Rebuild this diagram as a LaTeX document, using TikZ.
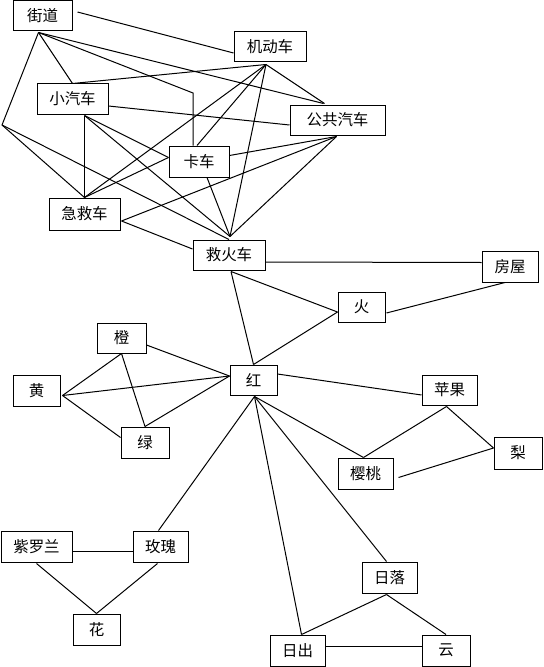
\documentclass[tikz,border=0pt]{standalone}
\usepackage{fontspec}
\newfontfamily\cjk{Noto Sans CJK SC}
\usetikzlibrary{calc,backgrounds}
\tikzset{
  box/.style={draw, line width=0.75pt, inner sep=0pt, fill=white, font=\cjk\fontsize{11.6}{11.6}\selectfont},
  wh/.style 2 args={minimum width=#1*0.75pt, minimum height=#2*0.75pt},
  link/.style={line width=0.75pt}
}
\begin{document}
\begin{tikzpicture}[x=0.75pt, y=-0.75pt]
\useasboundingbox (0,0) rectangle (543,667);
% bend points
\coordinate (b1) at (2,125);
\coordinate (b2) at (193,93);
\path
  node[box, wh={59}{30}] (jd) at (42.5,16) {街道}
  node[box, wh={72}{30}] (jdc) at (270,47) {机动车}
  node[box, wh={71}{30}] (xqc) at (72.5,99) {小汽车}
  node[box, wh={95}{30}] (ggqc) at (337.5,120) {公共汽车}
  node[box, wh={60}{31}] (kc) at (199,161.5) {卡车}
  node[box, wh={71}{32}] (jjc) at (84.5,214) {急救车}
  node[box, wh={72}{30}] (jhc) at (229,255) {救火车}
  node[box, wh={56}{31}] (fw) at (510,266.5) {房屋}
  node[box, wh={47}{30}] (huo) at (361.5,307) {火}
  node[box, wh={47}{30}] (hong) at (253.5,380) {红}
  node[box, wh={49}{30}] (cheng) at (121.5,338) {橙}
  node[box, wh={47}{31}] (huang) at (36.5,390.5) {黄}
  node[box, wh={48}{31}] (lv) at (145,442.5) {绿}
  node[box, wh={55}{30}] (pg) at (449.5,390) {苹果}
  node[box, wh={48}{32}] (li) at (518,453) {梨}
  node[box, wh={55}{31}] (yt) at (365.5,473.5) {樱桃}
  node[box, wh={71}{31}] (zll) at (36.5,546.5) {紫罗兰}
  node[box, wh={55}{31}] (mg) at (160.5,546.5) {玫瑰}
  node[box, wh={47}{31}] (hua) at (96.5,629.5) {花}
  node[box, wh={55}{31}] (rl) at (389.5,577.5) {日落}
  node[box, wh={55}{31}] (rc) at (297.5,650.5) {日出}
  node[box, wh={48}{31}] (yun) at (446,650.5) {云};
\begin{pgfonlayer}{background}
\begin{scope}[link]
% 街道
\draw ($(jd.south)+(-4,1)$) -- (xqc.north);
\draw ($(jd.south)+(-4,1)$) -- (b1) -- (jjc.north);
\draw (b1) -- (jhc.north);
\draw ($(jd.south)+(-4,1)$) -- (b2) -- ($(kc.north)+(-6,0)$);
\draw ($(jd.south)+(-4,1)$) -- ($(ggqc.north)+(-14,-1)$);
\draw ($(jd.east)+(5,-4)$) -- ($(jdc.west)+(0,6)$);
% 小汽车
\draw (xqc.north) -- ($(jdc.south)+(-4,2)$);
\draw ($(xqc.east)+(0,7)$) -- ($(ggqc.west)+(0,5)$);
\draw ($(xqc.south)+(12,1)$) -- (jjc.north);
\draw ($(xqc.south)+(12,1)$) -- ($(kc.west)+(0,-4)$);
\draw ($(xqc.south)+(12,1)$) -- ($(jhc.north)+(1,-3)$);
% 机动车
\draw ($(jdc.south)+(-4,2)$) -- (jjc.north);
\draw ($(jdc.south)+(-4,2)$) -- ($(kc.north)+(-2,0)$);
\draw ($(jdc.south)+(-4,2)$) -- ($(jhc.north)+(1,-3)$);
\draw ($(jdc.south)+(-4,2)$) -- ($(ggqc.north)+(-13,-1)$);
% 公共汽车
\draw ($(ggqc.south)+(-1,1)$) -- ($(kc.east)+(0,-6)$);
\draw ($(ggqc.south)+(-1,1)$) -- ($(jjc.east)+(1,7)$);
\draw ($(ggqc.south)+(-1,1)$) -- ($(jhc.north)+(1,-3)$);
% 急救车, 卡车
\draw (jjc.north) -- ($(kc.west)+(0,-4)$);
\draw ($(jjc.east)+(1,7)$) -- ($(jhc.west)+(0,-6)$);
\draw ($(kc.south)+(8,0)$) -- ($(jhc.north)+(1,-3)$);
% 救火车
\draw ($(jhc.east)+(0,7)$) -- ($(fw.west)+(0,-4)$);
\draw ($(jhc.south)+(2,1)$) -- (hong.north);
\draw ($(jhc.south)+(2,1)$) -- ($(huo.west)+(0,5)$);
\draw (hong.north) -- ($(huo.west)+(0,5)$);
\draw ($(huo.east)+(1,6)$) -- ($(fw.south)+(-5,0)$);
% 红
\draw ($(hong.east)+(0,-6)$) -- ($(pg.west)+(0,5)$);
\draw ($(hong.south)+(1,1)$) -- ($(yt.north)+(-2,0)$);
\draw ($(hong.south)+(1,1)$) -- ($(rl.north)+(-3,0)$);
\draw ($(hong.south)+(1,1)$) -- ($(rc.north)+(4,0)$);
\draw ($(hong.south)+(1,1)$) -- ($(mg.north)+(-2,0)$);
\draw ($(hong.west)+(0,-4)$) -- ($(cheng.east)+(0,7)$);
\draw ($(hong.west)+(0,-4)$) -- ($(huang.east)+(2,5)$);
\draw ($(hong.west)+(0,-4)$) -- (lv.north);
% 橙 黄 绿
\draw (cheng.south) -- ($(huang.east)+(2,5)$);
\draw (cheng.south) -- (lv.north);
\draw ($(huang.east)+(2,5)$) -- ($(lv.west)+(0,-5)$);
% 苹果 梨 樱桃
\draw ($(pg.south)+(-3,1)$) -- ($(yt.north)+(-2,0)$);
\draw ($(pg.south)+(-3,1)$) -- ($(li.west)+(0,-5)$);
\draw ($(yt.east)+(5,4)$) -- ($(li.west)+(0,-5)$);
% 花
\draw ($(zll.east)+(0,5)$) -- ($(mg.west)+(0,5)$);
\draw ($(zll.south)+(0,1)$) -- (hua.north);
\draw ($(mg.south)+(-3,1)$) -- (hua.north);
% 日
\draw ($(rl.south)+(-3,1)$) -- ($(rc.north)+(4,0)$);
\draw ($(rl.south)+(-3,1)$) -- (yun.north);
\draw ($(rc.east)+(0,-4)$) -- ($(yun.west)+(0,-4)$);
\end{scope}
\end{pgfonlayer}
\end{tikzpicture}
\end{document}
